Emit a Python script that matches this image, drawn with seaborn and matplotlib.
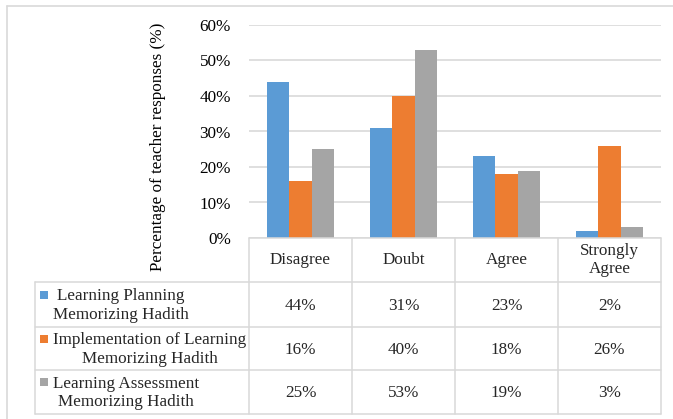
import matplotlib
matplotlib.use("Agg")
import matplotlib.pyplot as plt
import seaborn as sns
import pandas as pd
from matplotlib.lines import Line2D
from matplotlib.patches import Rectangle
from matplotlib.ticker import PercentFormatter

categories = ["Disagree", "Doubt", "Agree", "Strongly\nAgree"]
series_names = [
    "Learning Planning\nMemorizing Hadith",
    "Implementation of Learning\nMemorizing Hadith",
    "Learning Assessment\nMemorizing Hadith",
]
planning = [44, 31, 23, 2]
implementation = [16, 40, 18, 26]
assessment = [25, 53, 19, 3]
colors = ["#5B9BD5", "#ED7D31", "#A5A5A5"]
ylabel = "Percentage of teacher responses (%)"

series_values = [planning, implementation, assessment]
rows = []
for name, vals in zip(series_names, series_values):
    for c, v in zip(categories, vals):
        rows.append({"cat": c, "series": name, "val": v / 100})
df = pd.DataFrame(rows)

sns.set_theme(style="white")
plt.rcParams["font.family"] = ["Liberation Serif", "DejaVu Serif"]
FS = 12.3
GRID = "#D9D9D9"
LS = 1.2

W, H = 673, 419
fig = plt.figure(figsize=(W / 100, H / 100), dpi=100)
fig.patch.set_facecolor("white")

# main bar axes
L, R, T, B = 249, 661, 25, 238
ax = fig.add_axes([L / W, 1 - B / H, (R - L) / W, (B - T) / H])
sns.barplot(data=df, x="cat", y="val", hue="series", palette=colors,
            width=0.65, ax=ax, legend=False, saturation=1, order=categories,
            hue_order=series_names, linewidth=0)
ax.set_xlim(-0.5, len(categories) - 0.5)
ax.set_ylim(0, 0.6)
ax.set_yticks([0, 0.1, 0.2, 0.3, 0.4, 0.5, 0.6])
ax.yaxis.set_major_formatter(PercentFormatter(1.0, decimals=0))
ax.set_xticks([])
ax.set_xlabel("")
ax.set_ylabel("")
for s in ax.spines.values():
    s.set_visible(False)
ax.tick_params(axis="y", length=0, pad=13, labelsize=FS, colors="#000000")
ax.yaxis.grid(True, color=GRID, linewidth=1.2)
ax.set_axisbelow(True)
ax.patch.set_alpha(0)

fig.text(158 / W, 1 - 147 / H, ylabel, rotation=90, ha="center", va="center",
         fontsize=FS, color="#000000")

# table axes in pixel coordinates
TL = 35
tax = fig.add_axes([0, 0, 1, 1])
tax.set_xlim(0, W)
tax.set_ylim(H, 0)
tax.axis("off")
tax.patch.set_alpha(0)

row_edges = [238, 282, 327, 370, 414]
ncol = len(categories)
cw = (R - L) / ncol
col_edges = [L + i * cw for i in range(ncol + 1)]

lw = 1.1
tax.add_line(Line2D([L, R], [row_edges[0]] * 2, color=GRID, lw=lw))
for y in row_edges[1:]:
    tax.add_line(Line2D([TL, R], [y, y], color=GRID, lw=lw))
tax.add_line(Line2D([TL, TL], [row_edges[1], row_edges[-1]], color=GRID, lw=lw))
for x in col_edges:
    tax.add_line(Line2D([x, x], [row_edges[0], row_edges[-1]], color=GRID, lw=lw))

# header
for i, c in enumerate(categories):
    cx = (col_edges[i] + col_edges[i + 1]) / 2
    cy = (row_edges[0] + row_edges[1]) / 2
    tax.text(cx, cy, c, ha="center", va="center", fontsize=FS,
             multialignment="center", linespacing=LS)

# data rows
for r, (name, vals, col) in enumerate(zip(series_names, series_values, colors)):
    y0, y1 = row_edges[r + 1], row_edges[r + 2]
    cy = (y0 + y1) / 2
    tax.add_patch(Rectangle((40, cy - 14), 8, 8, color=col, lw=0))
    tax.text(53, cy + 1, name, ha="left", va="center", fontsize=FS,
             multialignment="center", linespacing=LS)
    for i, v in enumerate(vals):
        cx = (col_edges[i] + col_edges[i + 1]) / 2
        tax.text(cx, cy + 1, f"{v}%", ha="center", va="center", fontsize=FS)

# outer frame
tax.add_line(Line2D([7, 7], [6, H], color=GRID, lw=1.2))
tax.add_line(Line2D([7, W], [6, 6], color=GRID, lw=1.2))

fig.savefig("out.png", dpi=100, facecolor="white")
